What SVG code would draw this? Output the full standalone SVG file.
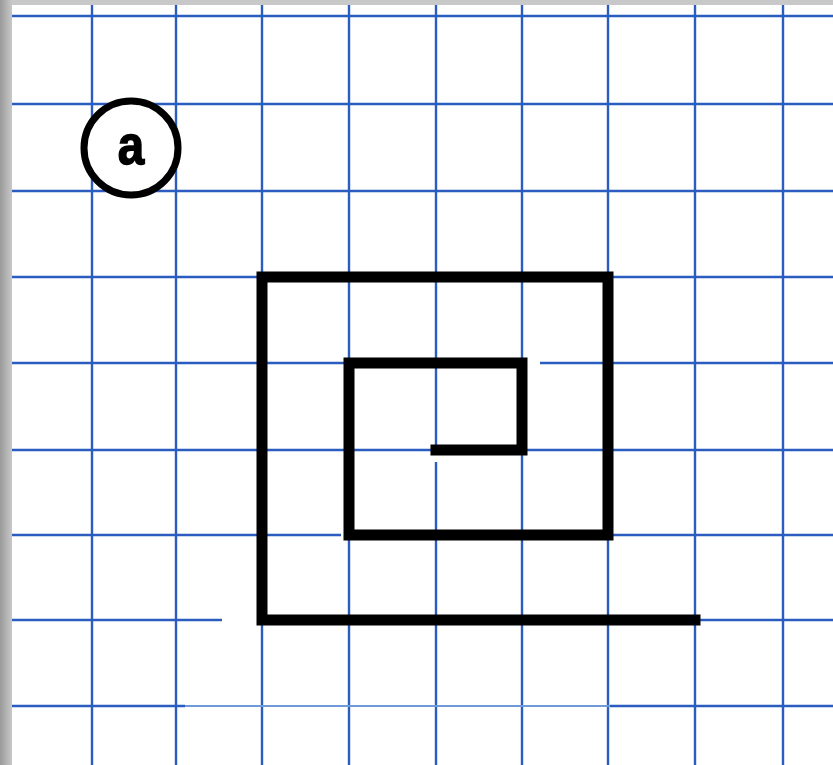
<svg xmlns="http://www.w3.org/2000/svg" width="833" height="765" viewBox="0 0 833 765">
<defs>
<linearGradient id="lg" x1="0" y1="0" x2="1" y2="0">
<stop offset="0" stop-color="#9a9a9a"/><stop offset="1" stop-color="#c8c8c8"/>
</linearGradient>
<style>
.g{stroke:#2b5cbf;stroke-width:2.4;fill:none}
.gf{stroke:#6f9ad8;stroke-width:2;fill:none}
.sp{stroke:#000;stroke-width:11;fill:none;stroke-linejoin:miter;stroke-linecap:square}
</style>
</defs>
<rect width="833" height="765" fill="#ffffff"/>
<rect x="0" y="0" width="833" height="5" fill="#c8c8c8"/>
<rect x="0" y="0" width="12" height="765" fill="url(#lg)"/>
<g id="grid">
<path class="g" d="M92 5V765M176 5V765M262 5V765M349 5V765M436 5V452M436 462V765M522 5V765M608 5V765M695 5V765M783 5V765"/>
<path class="g" d="M12 16H833M12 104H833M12 191H833M12 277H833M12 363H345M355 363H520M540 363H833M12 450H833M12 535H341M349 535H833M12 620H222M262 620H833"/>
<path class="g" d="M12 706H185"/>
<path class="gf" d="M185 706H610"/>
<path class="g" d="M610 706H833"/>
</g>
<g id="label">
<circle cx="131" cy="148" r="47" fill="#ffffff" stroke="#000" stroke-width="7"/>
<text x="131" y="164" transform="translate(131 0) scale(0.85 1) translate(-131 0)" text-anchor="middle" font-family="Liberation Sans, Arial, sans-serif" font-weight="bold" font-size="56" fill="#000" stroke="#000" stroke-width="1.5">a</text>
</g>
<g id="spiral">
<path class="sp" d="M695 620H262V277H608V535H349V363H522V450H436"/>
</g>
</svg>
